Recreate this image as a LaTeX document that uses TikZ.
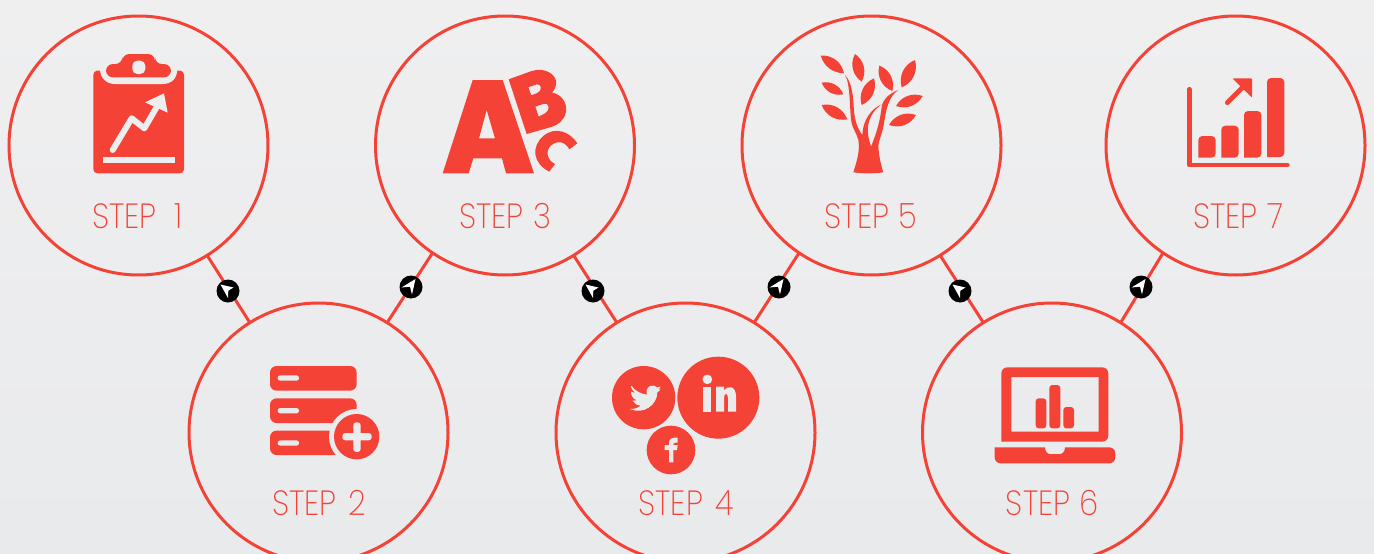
\documentclass[tikz,border=0pt]{standalone}
\usepackage{fontspec}
\setmainfont{Poppins}[UprightFont=* ExtraLight,FakeStretch=0.88]
\usetikzlibrary{calc}
\definecolor{rd}{HTML}{F44336}
\definecolor{txt}{HTML}{F44336}
\definecolor{bgt}{HTML}{EFEFF0}
\definecolor{bgb}{HTML}{E9EAEC}
\definecolor{bgm}{HTML}{EEEEEF}
\definecolor{bgl}{HTML}{EAEBED}
\tikzset{
  stepcircle/.style={circle,draw=rd,line width=3pt,minimum size=259pt,inner sep=0pt,outer sep=0pt},
  steplabel/.style={text=txt,font=\fontsize{35}{35}\selectfont,inner sep=0pt,anchor=center},
  link/.style={draw=rd,line width=3pt},
  marker/.style={circle,fill=black,minimum size=23pt,inner sep=0pt,outer sep=0pt},
  ico/.style={fill=rd,draw=none},
  zm/.style 2 args={shift={(#1,#2)},scale=1/3}
}
\begin{document}
\begin{tikzpicture}[x=1pt,y=-1pt]
\useasboundingbox (0,0) rectangle (1374,554);
\clip (0,0) rectangle (1374,554);
\shade[top color=bgt,bottom color=bgb] (0,0) rectangle (1374,554);
% circles
\node[stepcircle] (s1) at (138.5,145.5) {};
\node[stepcircle] (s3) at (505,145.5) {};
\node[stepcircle] (s5) at (871.5,145.5) {};
\node[stepcircle] (s7) at (1235.5,145.5) {};
\node[stepcircle] (s2) at (318.5,432.5) {};
\node[stepcircle] (s4) at (685.5,432.5) {};
\node[stepcircle] (s6) at (1052,432.5) {};
% connectors
\draw[link] (s1.-58.7) -- (s2.122.7);
\draw[link] (s2.58.7) -- (s3.-124.6);
\draw[link] (s3.-58.7) -- (s4.122.7);
\draw[link] (s4.58.7) -- (s5.-124.6);
\draw[link] (s5.-58.7) -- (s6.122.7);
\draw[link] (s6.58.7) -- (s7.-124.6);
% markers
\node[marker] (m1) at (228,291) {};
\node[marker] (m2) at (411,287) {};
\node[marker] (m3) at (593,291) {};
\node[marker] (m4) at (779,287) {};
\node[marker] (m5) at (960,291) {};
\node[marker] (m6) at (1141,287) {};
\foreach \m in {m1,m3,m5}{
  \fill[white,shift={(\m)}] (-7.5,-6.5) -- (5.5,-3.5) -- (0.3,-0.3) -- (0,7) -- cycle;
}
\foreach \m in {m2,m4,m6}{
  \fill[white,shift={(\m)}] (4.5,-8) -- (-9.5,0.5) -- (-1,-0.3) -- (1,7.5) -- cycle;
}
% labels
\node[steplabel] (t1) at (137.5,216) {STEP\hspace{9pt} 1};
\node[steplabel] (t2) at (319,503) {STEP\hspace{3.5pt} 2};
\node[steplabel] (t3) at (505.5,216) {STEP\hspace{1.5pt} 3};
\node[steplabel] (t4) at (686,503) {STEP\hspace{3.5pt} 4};
\node[steplabel] (t5) at (871,216) {STEP\hspace{1pt} 5};
\node[steplabel] (t6) at (1052.5,503) {STEP\hspace{1pt} 6};
\node[steplabel] (t7) at (1238,216) {STEP\hspace{1pt} 7};
% clipboard
\begin{scope}[zm={60}{40}]
\fill[ico,rounded corners=4pt] (100,92) -- (120,92) -- (372,92) -- (372,400) -- (100,400) -- cycle;
\fill[bgm] (120,86) .. controls (120,115) and (140,132) .. (165,132) -- (308,132) .. controls (335,132) and (352,115) .. (352,86) -- cycle;
\fill[ico,rounded corners=7pt] (138,112) -- (138,72) -- (187,72) -- (187,42) -- (285,42) -- (285,72) -- (333,72) -- (333,112) -- cycle;
\fill[bgm,rounded corners=5pt] (217,62) rectangle (256,102);
\draw[bgm,line width=6pt,line cap=round,line join=round] (158,330) -- (215,235) -- (253,265) -- (292,198);
\fill[bgm] (312,160) -- (255,187) -- (323,218) -- cycle;
\fill[bgm] (129,350) rectangle (344,370);
\end{scope}
% ABC
\begin{scope}[zm={430}{50}]
\fill[ico,even odd rule] (128,90) -- (218,90) -- (312,370) -- (228,370) -- (216,325) -- (130,325) -- (116,370) -- (38,370) -- cycle
  (170,180) -- (195,265) -- (147,265) -- cycle;
\fill[ico,even odd rule] (236,88) -- (305,63) .. controls (345,50) and (385,75) .. (378,105) .. controls (376,115) and (372,122) .. (366,128) .. controls (395,132) and (412,160) .. (408,185) .. controls (404,210) and (385,225) .. (360,232) -- (290,252) -- cycle
  (295,112) -- (320,103) .. controls (335,100) and (338,122) .. (322,129) -- (304,136) -- cycle
  (316,170) -- (342,161) .. controls (358,157) and (362,182) .. (345,190) -- (326,200) -- cycle;
\fill[ico] (442,280) .. controls (420,245) and (375,228) .. (340,258) .. controls (303,290) and (308,340) .. (358,365) -- (375,342) .. controls (350,330) and (345,300) .. (365,285) .. controls (385,270) and (405,275) .. (418,298) -- cycle;
\end{scope}
% tree
\begin{scope}[zm={800}{40}]
\fill[ico] (62,47) to[bend left=42] (132,100) to[bend left=35] (62,47);
\fill[ico] (65,128) to[bend left=40] (130,163) to[bend left=40] (65,128);
\fill[ico] (65,195) to[bend left=40] (142,238) to[bend left=40] (65,195);
\fill[ico] (165,42) to[bend left=42] (185,125) to[bend left=42] (165,42);
\fill[ico] (222,115) to[bend left=42] (185,195) to[bend left=42] (222,115);
\fill[ico] (238,77) to[bend left=42] (277,153) to[bend left=42] (238,77);
\fill[ico] (345,60) to[bend left=42] (305,142) to[bend left=42] (345,60);
\fill[ico] (368,168) to[bend left=40] (288,198) to[bend left=40] (368,168);
\fill[ico] (348,225) to[bend left=40] (267,255) to[bend left=40] (348,225);
\fill[ico] (160,397) .. controls (172,360) and (180,330) .. (175,300)
  .. controls (170,280) and (158,265) .. (155,250)
  .. controls (148,215) and (152,130) .. (135,105)
  .. controls (155,125) and (160,170) .. (161,200)
  .. controls (163,240) and (172,265) .. (187,285)
  .. controls (188,240) and (215,205) .. (245,193)
  .. controls (220,210) and (200,240) .. (204,280)
  .. controls (205,295) and (210,310) .. (213,320)
  .. controls (225,290) and (240,250) .. (245,200)
  .. controls (250,175) and (270,160) .. (295,150)
  .. controls (265,170) and (258,210) .. (252,250)
  .. controls (245,290) and (235,300) .. (235,320)
  .. controls (237,350) and (243,375) .. (250,397)
  .. controls (220,401) and (190,401) .. (160,397) -- cycle;
\end{scope}
% chart
\begin{scope}[zm={1170}{60}]
\fill[ico,rounded corners=4pt] (85,293) -- (85,228) -- (137,228) -- (137,293) [sharp corners] -- cycle;
\fill[ico,rounded corners=4pt] (154,293) -- (154,197) -- (206,197) -- (206,293) [sharp corners] -- cycle;
\fill[ico,rounded corners=4pt] (222,293) -- (222,153) -- (274,153) -- (274,293) [sharp corners] -- cycle;
\fill[ico,rounded corners=4pt] (291,291) -- (291,54) -- (343,54) -- (343,291) [sharp corners] -- cycle;
\draw[rd,line width=4.8pt,line cap=round,line join=round] (58,88) -- (58,315) -- (352,315);
\draw[rd,line width=4.8pt,line cap=round] (172,128) -- (225,75);
\fill[ico,rounded corners=1pt] (187,55) -- (246,55) -- (246,113) -- cycle;
\end{scope}
% stack
\begin{scope}[zm={255}{355}]
\fill[ico,rounded corners=6.5pt] (45,33) rectangle (305,107);
\fill[ico,rounded corners=6.5pt] (45,130) rectangle (305,204);
\fill[ico,rounded corners=6.5pt] (45,227) rectangle (305,300);
\fill[bgl] (305,245) circle[radius=83];
\fill[ico] (305,245) circle[radius=68];
\fill[bgl,rounded corners=2.5pt] (68,61) rectangle (132,77);
\fill[bgl,rounded corners=2.5pt] (68,159) rectangle (132,175);
\fill[bgl,rounded corners=2.5pt] (68,256) rectangle (132,272);
\fill[bgl,rounded corners=3pt] (262,234) rectangle (350,256);
\fill[bgl,rounded corners=3pt] (295,202) rectangle (317,291);
\end{scope}
% social
\begin{scope}[zm={600}{350}]
\fill[ico] (131,143) circle[radius=95];
\fill[ico] (355,143) circle[radius=123];
\fill[ico] (213,300) circle[radius=73];
\fill[bgl] (150,108) .. controls (158,104) and (166,108) .. (172,112) -- (182,110) -- (176,119) -- (182,119) -- (172,127)
  .. controls (172,165) and (130,195) .. (90,177)
  .. controls (102,178) and (113,174) .. (122,167)
  .. controls (110,166) and (102,160) .. (98,152)
  -- (111,151) .. controls (100,147) and (92,137) .. (93,125)
  -- (106,129) .. controls (94,120) and (90,105) .. (95,108)
  .. controls (105,122) and (122,132) .. (141,134)
  .. controls (137,122) and (142,112) .. (150,108) -- cycle;
\fill[bgl] (322,88) circle[radius=14.5];
\fill[bgl] (310,110) rectangle (334,185);
\fill[bgl] (348,110) -- (372,110) -- (372,122) .. controls (385,104) and (408,108) .. (408,140) -- (408,185) -- (384,185) -- (384,145) .. controls (384,127) and (372,127) .. (372,145) -- (372,185) -- (348,185) -- cycle;
\fill[bgl] (207,337) -- (207,300) -- (194,300) -- (194,285) -- (207,285) -- (207,278) .. controls (207,265) and (218,262) .. (233,263) -- (233,278) -- (226,278) .. controls (220,278) and (220,282) .. (220,285) -- (233,285) -- (231,300) -- (220,300) -- (220,337) -- cycle;
\end{scope}
% laptop
\begin{scope}[zm={985}{355}]
\fill[ico,even odd rule,rounded corners=6pt] (49,260) -- (49,37) -- (370,37) -- (370,260) [sharp corners] -- cycle
  (79,66) rectangle (341,230);
\fill[ico,rounded corners=6pt] (29,277) -- (29,325) -- (391,325) -- (391,277) [sharp corners] -- (240,277) .. controls (240,290) and (232,297) .. (225,297) -- (195,297) .. controls (188,297) and (180,290) .. (180,277) -- cycle;
\fill[ico,rounded corners=3pt] (152,130) rectangle (184,220);
\fill[ico,rounded corners=3pt] (193,90) rectangle (226,220);
\fill[ico,rounded corners=3pt] (235,156) rectangle (267,220);
\end{scope}
\end{tikzpicture}
\end{document}
